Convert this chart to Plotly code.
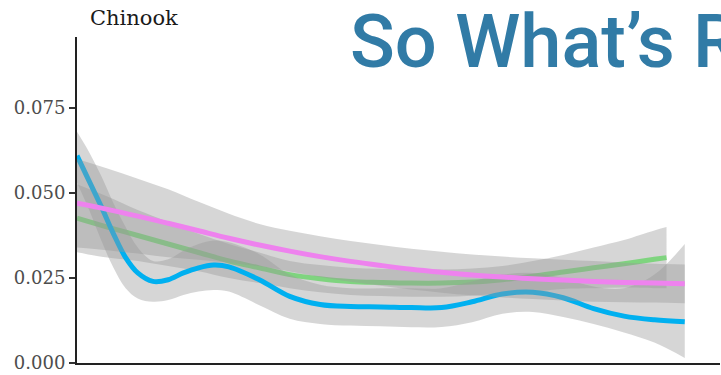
import plotly.graph_objects as go

# ---------------- data ----------------
blue_x = [0, 2, 4, 6, 8, 10, 12.5, 15, 17.5, 20, 22.5, 25, 30, 35, 40, 45, 50,
          55, 60, 65, 70, 75, 80, 85, 90, 95, 100]
blue_y = [0.061, 0.0535, 0.046, 0.038, 0.031, 0.0265, 0.024, 0.0245, 0.0265,
          0.028, 0.0288, 0.0283, 0.0245, 0.0196, 0.0172, 0.0166, 0.0165, 0.0163,
          0.0163, 0.018, 0.0203, 0.0208, 0.0192, 0.016, 0.0138, 0.0127, 0.0121]
blue_lo = [0.053, 0.045, 0.036, 0.028, 0.022, 0.019, 0.018, 0.0185, 0.020,
           0.021, 0.0215, 0.021, 0.017, 0.013, 0.0115, 0.011, 0.0108, 0.0105,
           0.0106, 0.012, 0.0145, 0.015, 0.0135, 0.0115, 0.009, 0.006, 0.0015]
blue_hi = [0.068, 0.062, 0.055, 0.047, 0.040, 0.034, 0.030, 0.0305, 0.033,
           0.035, 0.036, 0.0355, 0.032, 0.026, 0.023, 0.022, 0.022, 0.022,
           0.022, 0.024, 0.026, 0.0265, 0.025, 0.0225, 0.022, 0.026, 0.035]

green_x = [0, 5, 10, 15, 20, 25, 30, 35, 40, 45, 50, 55, 60, 65, 70, 75, 80,
           85, 90, 95, 97]
green_y = [0.0426, 0.040, 0.0375, 0.035, 0.0325, 0.030, 0.028, 0.026, 0.0248,
           0.024, 0.0237, 0.0235, 0.0235, 0.0238, 0.0245, 0.0255, 0.0268, 0.028,
           0.0292, 0.0305, 0.031]
green_lo = [0.0326, 0.031, 0.030, 0.0285, 0.027, 0.025, 0.0235, 0.022, 0.0208,
            0.020, 0.0197, 0.0195, 0.0195, 0.0198, 0.0205, 0.021, 0.0218, 0.022,
            0.0222, 0.022, 0.022]
green_hi = [0.0526, 0.049, 0.045, 0.0415, 0.038, 0.035, 0.0325, 0.030, 0.0288,
            0.028, 0.0277, 0.0275, 0.0275, 0.0278, 0.0285, 0.030, 0.0318, 0.034,
            0.0362, 0.039, 0.040]

pink_x = [0, 5, 10, 15, 20, 25, 30, 35, 40, 45, 50, 55, 60, 65, 70, 75, 80,
          85, 90, 95, 100]
pink_y = [0.047, 0.0452, 0.0432, 0.0411, 0.0389, 0.0367, 0.0347, 0.0329, 0.0313,
          0.0299, 0.0287, 0.0276, 0.0267, 0.0259, 0.0253, 0.0248, 0.0244, 0.024,
          0.0237, 0.0235, 0.0233]
pink_lo = [0.034, 0.0332, 0.0322, 0.0311, 0.0304, 0.0295, 0.0285, 0.0269, 0.0253,
           0.0239, 0.0227, 0.0216, 0.0207, 0.0199, 0.0193, 0.0188, 0.0184, 0.018,
           0.0179, 0.0178, 0.0176]
pink_hi = [0.060, 0.0572, 0.0542, 0.0511, 0.0474, 0.0439, 0.0409, 0.0389, 0.0373,
           0.0359, 0.0347, 0.0336, 0.0327, 0.0319, 0.0313, 0.0308, 0.0304, 0.030,
           0.0295, 0.0292, 0.029]

y_ticks = [0.0, 0.025, 0.05, 0.075]
y_tick_labels = ["0.000", "0.025", "0.050", "0.075"]
panel_title = "Chinook"
headline = "So What\u2019s R"

# ---------------- figure ----------------
BAND = "rgba(153,153,153,0.4)"
fig = go.Figure()

def add_series(x, y, lo, hi, color):
    fig.add_trace(go.Scatter(x=x, y=lo, mode="lines", line=dict(width=0, shape="spline"),
                             hoverinfo="skip", showlegend=False))
    fig.add_trace(go.Scatter(x=x, y=hi, mode="lines", line=dict(width=0, shape="spline"),
                             fill="tonexty", fillcolor=BAND, hoverinfo="skip", showlegend=False))
    fig.add_trace(go.Scatter(x=x, y=y, mode="lines",
                             line=dict(color=color, width=5, shape="spline"),
                             showlegend=False))

add_series(green_x, green_y, green_lo, green_hi, "#7fd47f")
add_series(blue_x, blue_y, blue_lo, blue_hi, "#00b0f0")
add_series(pink_x, pink_y, pink_lo, pink_hi, "#ee82ee")

fig.update_layout(
    template="none",
    width=721, height=375,
    margin=dict(l=77, r=1, t=37, b=12, autoexpand=False),
    paper_bgcolor="white", plot_bgcolor="white",
    showlegend=False,
)
fig.update_xaxes(range=[0, 105.8], showgrid=False, zeroline=False, automargin=False,
                 showticklabels=False, ticks="",
                 showline=True, linecolor="#222222", linewidth=2)
fig.update_yaxes(range=[0, 0.0959], showgrid=False, zeroline=False, automargin=False,
                 tickvals=y_ticks, ticktext=y_tick_labels,
                 ticks="outside", ticklen=6, tickwidth=2, tickcolor="#333333",
                 tickfont=dict(family="DejaVu Serif", size=18, color="#4d4d4d"),
                 showline=True, linecolor="#222222", linewidth=2)

fig.add_annotation(text=panel_title, xref="paper", yref="paper",
                   x=(88 - 77) / 643, y=(363 - 18) / 326, xanchor="left", yanchor="middle",
                   showarrow=False,
                   font=dict(family="DejaVu Serif", size=21, color="#1a1a1a"))
fig.add_annotation(text=headline, xref="paper", yref="paper",
                   x=(348 - 77) / 643, y=(363 - 41) / 326, xanchor="left", yanchor="middle",
                   showarrow=False,
                   font=dict(family="Roboto", size=74, color="#317ba6", weight=500))

fig.write_html(
    "out.html",
    config={"displayModeBar": False},
    post_script="document.body.style.margin='0';document.body.style.overflow='hidden';",
)
